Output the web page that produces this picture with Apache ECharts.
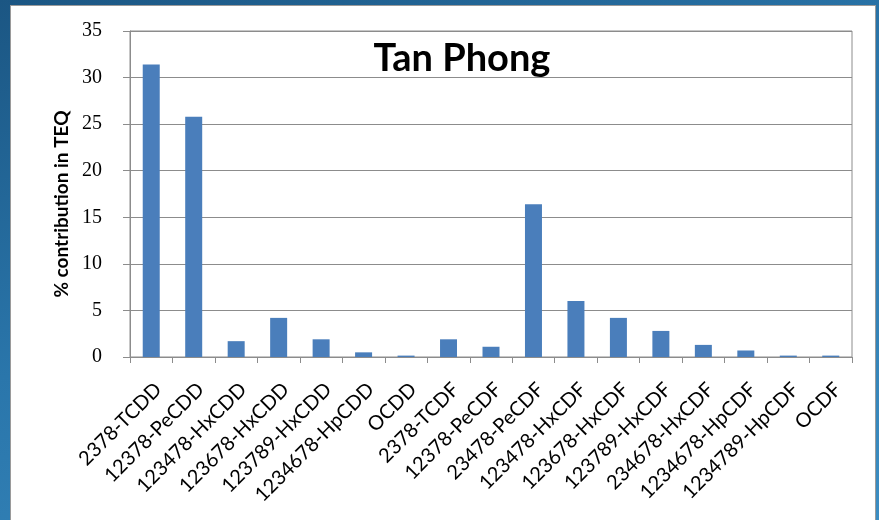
<!DOCTYPE html>
<html>
<head>
<meta charset="utf-8">
<script src="https://cdn.jsdelivr.net/npm/echarts@6/dist/echarts.min.js"></script>
<style>
html,body{margin:0;padding:0;width:879px;height:520px;overflow:hidden;}
body{background:linear-gradient(160deg,#1b5683 0%,#2a76ab 45%,#3b8dc2 100%);position:relative;}
#panel{position:absolute;left:10px;top:5px;width:866px;height:520px;background:#fff;border:1px solid #9a9a9a;box-sizing:border-box;}
#chart{position:absolute;left:0;top:0;width:879px;height:520px;}
</style>
</head>
<body>
<div id="panel"></div>
<div id="chart"></div>
<script>
const titleText = "Tan Phong";
const yAxisTitle = "% contribution in TEQ";
const categories = ["2378-TCDD","12378-PeCDD","123478-HxCDD","123678-HxCDD","123789-HxCDD","1234678-HpCDD","OCDD","2378-TCDF","12378-PeCDF","23478-PeCDF","123478-HxCDF","123678-HxCDF","123789-HxCDF","234678-HxCDF","1234678-HpCDF","1234789-HpCDF","OCDF"];
const values = [31.4, 25.8, 1.7, 4.2, 1.9, 0.5, 0.15, 1.9, 1.1, 16.4, 6.0, 4.2, 2.8, 1.3, 0.7, 0.15, 0.15];
const yTicks = [0, 5, 10, 15, 20, 25, 30, 35];

const chart = echarts.init(document.getElementById('chart'), null, {renderer: 'canvas'});
chart.setOption({
  animation: false,
  backgroundColor: 'transparent',
  title: {
    text: titleText,
    left: 457, top: 35, textAlign: 'center',
    textStyle: {fontFamily: 'Lato', fontWeight: 'bold', fontSize: 38, color: '#000'}
  },
  grid: {left: 130, top: 31, right: 27, bottom: 163, show: true, borderColor: '#8c8c8c', borderWidth: 1, containLabel: false},
  xAxis: {
    type: 'category',
    data: categories,
    axisLine: {lineStyle: {color: '#8c8c8c', width: 1}},
    axisTick: {show: true, alignWithLabel: false, length: 6, lineStyle: {color: '#8c8c8c'}},
    axisLabel: {rotate: 45, interval: 0, margin: 22, verticalAlign: 'top', fontFamily: 'Lato', fontSize: 20, color: '#000'}
  },
  yAxis: {
    type: 'value',
    min: yTicks[0], max: yTicks[yTicks.length - 1], interval: 5,
    name: yAxisTitle,
    nameLocation: 'middle',
    nameGap: 58,
    nameTextStyle: {fontFamily: 'Lato', fontWeight: 'bold', fontSize: 19, color: '#000', padding: [0, 20, 0, 0]},
    axisLine: {show: true, lineStyle: {color: '#8c8c8c', width: 1}},
    axisTick: {show: true, length: 7, lineStyle: {color: '#8c8c8c'}},
    axisLabel: {margin: 28, fontFamily: 'Liberation Serif', fontSize: 20, color: '#000'},
    splitLine: {lineStyle: {color: '#8c8c8c', width: 1}}
  },
  series: [{
    type: 'bar',
    data: values,
    barWidth: 17,
    itemStyle: {color: '#4a7ebb'}
  }]
});
</script>
</body>
</html>
